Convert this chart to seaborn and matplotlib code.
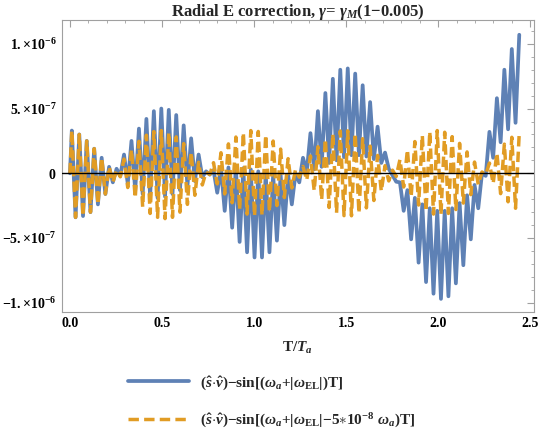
import numpy as np
import pandas as pd
import matplotlib
matplotlib.use('Agg')
import matplotlib.pyplot as plt
import seaborn as sns
from matplotlib.ticker import MultipleLocator

# peak / trough values of each carrier cycle (units of 1e-7)
blue_hi = [3.3, 3.0, 2.5, 1.9, 1.2, 0.5, 0.35, 1.45, 2.5, 3.45, 4.2, 4.8, 5.0, 4.9, 4.5, 3.7,
           2.7, 1.45, 0.15, 0.25, 0.4, 0.45, 0.45, 0.4, 0.3, 0.15, 0.0, -0.1, -0.15, -0.1, 0.0,
           1.2, 3.1, 4.8, 6.2, 7.3, 8.0, 8.1, 7.7, 6.8, 5.5, 3.6, 1.6, -0.15, -0.7, -1.3, -1.9,
           -2.4, -2.7, -2.9, -2.9, -2.7, -2.3, -1.7, -0.9, 0.0, 3.2, 5.8, 8.0, 9.6, 10.7]
blue_lo = [-3.4, -3.3, -3.0, -2.4, -1.6, -0.7, -0.2, -0.8, -1.3, -1.6, -1.8, -1.9, -1.8, -1.6,
           -1.3, -1.0, -0.6, -0.3, -0.1, -1.5, -2.9, -4.2, -5.3, -6.1, -6.5, -6.5, -6.1, -5.2,
           -4.0, -2.4, -0.7, 0.1, 0.3, 0.5, 0.8, 1.0, 1.25, 1.4, 1.4, 1.3, 1.1, 0.8, 0.35, -0.65,
           -2.9, -5.1, -6.9, -8.4, -9.3, -9.7, -9.5, -8.5, -7.1, -5.1, -2.7, -0.2, 1.2, 2.4, 3.4,
           3.9]
orange_hi = [3.3, 3.0, 2.5, 1.9, 1.2, 0.5, 0.27, 1.1, 1.84, 2.47, 2.94, 3.22, 3.3, 3.16, 2.81,
             2.29, 1.62, 0.85, 0.1, 0.82, 1.59, 2.27, 2.8, 3.15, 3.3, 3.23, 2.96, 2.49, 1.87,
             1.13, 0.3, 0.53, 1.34, 2.05, 2.64, 3.05, 3.27, 3.28, 3.07, 2.67, 2.1, 1.38, 0.59,
             0.24, 1.06, 1.82, 2.45, 2.93, 3.22, 3.3, 3.17, 2.83, 2.31, 1.65, 0.87, 0.1, 0.79,
             1.57, 2.25, 2.78, 3.14]
orange_lo = [-3.4, -3.3, -3.0, -2.4, -1.6, -0.7, -0.27, -1.1, -1.9, -2.6, -3.1, -3.4, -3.5, -3.4,
             -3.0, -2.4, -1.7, -0.9, -0.1, -0.82, -1.59, -2.27, -2.8, -3.15, -3.3, -3.23, -2.96,
             -2.49, -1.87, -1.13, -0.3, -0.53, -1.34, -2.05, -2.64, -3.05, -3.27, -3.28, -3.07,
             -2.67, -2.1, -1.38, -0.59, -0.24, -1.06, -1.82, -2.45, -2.93, -3.15, -3.2, -3.1,
             -2.8, -2.3, -1.65, -0.87, -0.1, -0.79, -1.57, -2.2, -2.7]

period = 0.0405      # carrier period in T/T_a
t_first = 0.0101     # time of first crest


def zigzag(hi, lo):
    # start at the origin, then crest, trough, crest, ...
    th = t_first + period * np.arange(len(hi))
    tl = th[:len(lo)] + period / 2
    t = np.concatenate([[0.0], np.ravel(np.column_stack([th[:len(lo)], tl])), th[len(lo):]])
    v = np.concatenate([[0.0], np.ravel(np.column_stack([hi[:len(lo)], lo])), hi[len(lo):]])
    return t, v * 1e-7


tb, vb = zigzag(blue_hi, blue_lo)
to, vo = zigzag(orange_hi, orange_lo)
df_b = pd.DataFrame({'t': tb, 'v': vb})
df_o = pd.DataFrame({'t': to, 'v': vo})

sns.set_theme(style='white')
plt.rcParams['font.family'] = ['Liberation Serif', 'DejaVu Serif']
plt.rcParams['font.weight'] = 'bold'
plt.rcParams['mathtext.fontset'] = 'custom'
plt.rcParams['mathtext.rm'] = 'Liberation Serif:bold'
plt.rcParams['mathtext.bf'] = 'Liberation Serif:bold'
plt.rcParams['mathtext.it'] = 'Liberation Serif:italic'

blue = '#5E81B5'
orange = '#E19C24'
frame = '#a0a0a0'

fig = plt.figure(figsize=(5.42, 4.36), dpi=100)
ax = fig.add_axes([0.1138, 0.2851, 0.8714, 0.669])

lab1 = (r'$\mathbf{(}\hat{s}{\cdot}\hat{v}\mathbf{)}{-}\mathbf{sin[(}\omega_a{+}\mathbf{|}'
        r'\omega_{\mathbf{EL}}\mathbf{|)T]}$')
lab2 = (r'$\mathbf{(}\hat{s}{\cdot}\hat{v}\mathbf{)}{-}\mathbf{sin[(}\omega_a{+}\mathbf{|}'
        r'\omega_{\mathbf{EL}}\mathbf{|}{-}\mathbf{5}{\ast}\mathbf{10^{-8}}\ \omega_a\mathbf{)T]}$')

sns.lineplot(data=df_b, x='t', y='v', ax=ax, color=blue, lw=2.7, sort=False,
             estimator=None, label=lab1, solid_joinstyle='round')
sns.lineplot(data=df_o, x='t', y='v', ax=ax, color=orange, lw=2.5, sort=False,
             estimator=None, linestyle=(0, (3.0, 1.5)), label=lab2)
ax.axhline(0, color='black', lw=1.0, zorder=5)

ax.set_xlim(-0.045, 2.52)
ax.set_ylim(-1.069e-6, 1.184e-6)
xt = [0.0, 0.5, 1.0, 1.5, 2.0, 2.5]
ax.set_xticks(xt)
ax.set_xticklabels([f'{v:.1f}' for v in xt])
ax.xaxis.set_minor_locator(MultipleLocator(0.1))
yt = [-1e-6, -5e-7, 0, 5e-7, 1e-6]
ytl = [r'$\mathbf{-1.}{\times}\mathbf{10^{-6}}$', r'$\mathbf{-5.}{\times}\mathbf{10^{-7}}$',
       r'$\mathbf{0}$',
       r'$\mathbf{5.}{\times}\mathbf{10^{-7}}$', r'$\mathbf{1.}{\times}\mathbf{10^{-6}}$']
ax.set_yticks(yt)
ax.set_yticklabels(ytl)
ax.yaxis.set_minor_locator(MultipleLocator(1e-7))
ax.tick_params(which='both', direction='in', top=True, right=True, color=frame,
               labelsize=10, labelcolor='black')
ax.tick_params(which='major', length=5, width=0.8)
ax.tick_params(which='minor', length=2.5, width=0.6)
for s in ax.spines.values():
    s.set_color(frame)
    s.set_linewidth(0.8)

ax.set_xlabel(r'$\mathbf{T/}T_a$', fontsize=11)
ax.xaxis.set_label_coords(0.5, -0.095)
ax.set_ylabel('')
ax.set_title(r'Radial E correction, $\gamma$= $\gamma_M$(1−0.005)', fontsize=12,
             fontweight='bold', pad=3)

h, l = ax.get_legend_handles_labels()
if ax.get_legend() is not None:
    ax.get_legend().remove()
fig.legend(h, l, loc='upper left', bbox_to_anchor=(0.225, 1 - 368 / 436), frameon=False,
           fontsize=11, handlelength=4.0, handletextpad=0.7, labelspacing=1.3,
           borderaxespad=0, bbox_transform=fig.transFigure)

fig.savefig('out.png', dpi=100)
